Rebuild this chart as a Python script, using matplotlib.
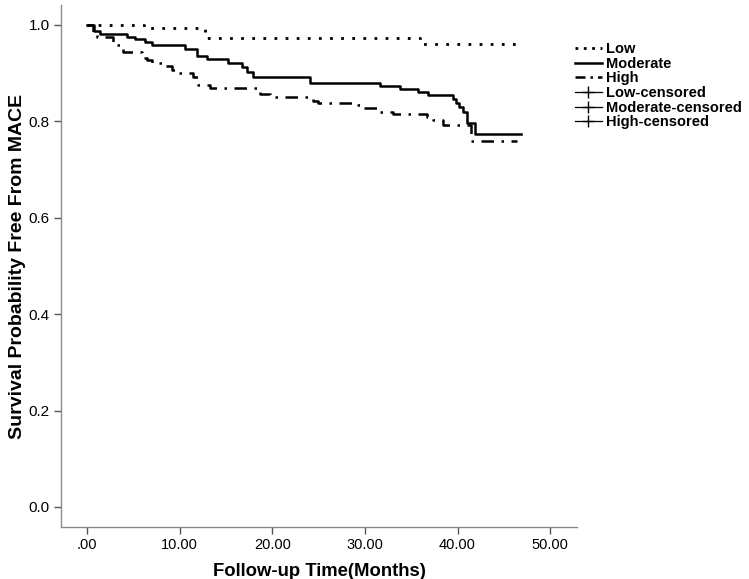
#!/usr/bin/env python3
"""Kaplan-Meier style survival curves free from MACE by risk group."""
import matplotlib
matplotlib.use('Agg')
import matplotlib.pyplot as plt
from matplotlib.lines import Line2D

plt.rcParams.update({
    'font.family': ['Liberation Sans', 'DejaVu Sans'],
    'font.size': 11,
})

# step times (months) and survival after each step
low_t = [0.0, 6.1, 12.7, 36.0, 47.1]
low_s = [1.0, 0.994, 0.973, 0.961, 0.961]

mod_t = [0.0, 0.8, 1.4, 4.3, 5.2, 6.3, 7.0, 10.6, 11.9, 13.0, 15.2, 16.7, 17.3,
         17.9, 24.1, 31.6, 33.8, 35.7, 36.8, 39.5, 39.8, 40.2, 40.6, 41.0,
         41.9, 46.8]
mod_s = [1.0, 0.988, 0.981, 0.975, 0.971, 0.965, 0.959, 0.950, 0.936, 0.929,
         0.921, 0.913, 0.902, 0.892, 0.880, 0.873, 0.867, 0.861, 0.855, 0.846,
         0.838, 0.830, 0.820, 0.797, 0.774, 0.774]

high_t = [0.0, 0.65, 1.1, 2.8, 3.6, 3.9, 5.9, 6.5, 7.0, 8.2, 9.2, 9.8, 11.4,
          12.0, 13.3, 18.7, 19.8, 24.4, 24.9, 29.3, 29.5, 31.4, 33.0, 36.7,
          37.3, 38.4, 41.4, 46.4]
high_s = [1.0, 0.983, 0.975, 0.958, 0.950, 0.944, 0.932, 0.927, 0.921, 0.915,
          0.907, 0.900, 0.892, 0.876, 0.869, 0.857, 0.851, 0.842, 0.838, 0.834,
          0.828, 0.820, 0.815, 0.809, 0.803, 0.793, 0.759, 0.759]

x_ticks = [0, 10, 20, 30, 40, 50]
x_labels = ['.00', '10.00', '20.00', '30.00', '40.00', '50.00']
y_ticks = [0.0, 0.2, 0.4, 0.6, 0.8, 1.0]

fig = plt.figure(figsize=(7.49, 5.79), dpi=100)
ax = fig.add_axes([0.0814, 0.0898, 0.689, 0.9016])

ax.step(low_t, low_s, where='post', color='black', lw=2.0,
        linestyle=(0, (1, 3)))
ax.step(mod_t, mod_s, where='post', color='black', lw=1.8)
ax.step(high_t, high_s, where='post', color='black', lw=1.8,
        linestyle=(0, (5, 3, 1, 3)))

ax.set_xlim(-2.81, 52.9)
ax.set_ylim(-0.0415, 1.041)
ax.spines['top'].set_visible(False)
ax.spines['right'].set_visible(False)
for side in ('left', 'bottom'):
    ax.spines[side].set_color('#8a8a8a')
    ax.spines[side].set_linewidth(1.0)

ax.set_xticks(x_ticks)
ax.set_xticklabels(x_labels, fontsize=10.5)
ax.set_yticks(y_ticks)
ax.set_yticklabels(['{:.1f}'.format(v) for v in y_ticks], fontsize=11)
ax.tick_params(axis='both', direction='out', length=5, width=1,
               color='#555555', pad=3)

ax.set_xlabel('Follow-up Time(Months)', fontsize=13.3, fontweight='bold')
ax.xaxis.set_label_coords(0.5, -0.068)
ax.set_ylabel('Survival Probability Free From MACE', fontsize=14,
              fontweight='bold')
ax.yaxis.set_label_coords(-0.068, 0.5)

handles = [
    Line2D([], [], color='black', lw=2.0, linestyle=(0, (1, 2))),
    Line2D([], [], color='black', lw=1.8),
    Line2D([], [], color='black', lw=1.8, linestyle=(0, (4, 2, 1, 2))),
    Line2D([], [], color='black', lw=0.9, marker='+', markersize=9),
    Line2D([], [], color='black', lw=0.9, marker='+', markersize=9),
    Line2D([], [], color='black', lw=0.9, marker='+', markersize=9),
]
labels = ['Low', 'Moderate', 'High', 'Low-censored', 'Moderate-censored',
          'High-censored']
leg = fig.legend(handles, labels, loc='upper left',
                 bbox_to_anchor=(568 / 749, 1 - 35 / 579), frameon=False,
                 handlelength=1.8, handletextpad=0.3, labelspacing=0.04,
                 borderpad=0, prop={'size': 10.5, 'weight': 'bold'})

plt.savefig('out.png', dpi=100)
plt.close()
